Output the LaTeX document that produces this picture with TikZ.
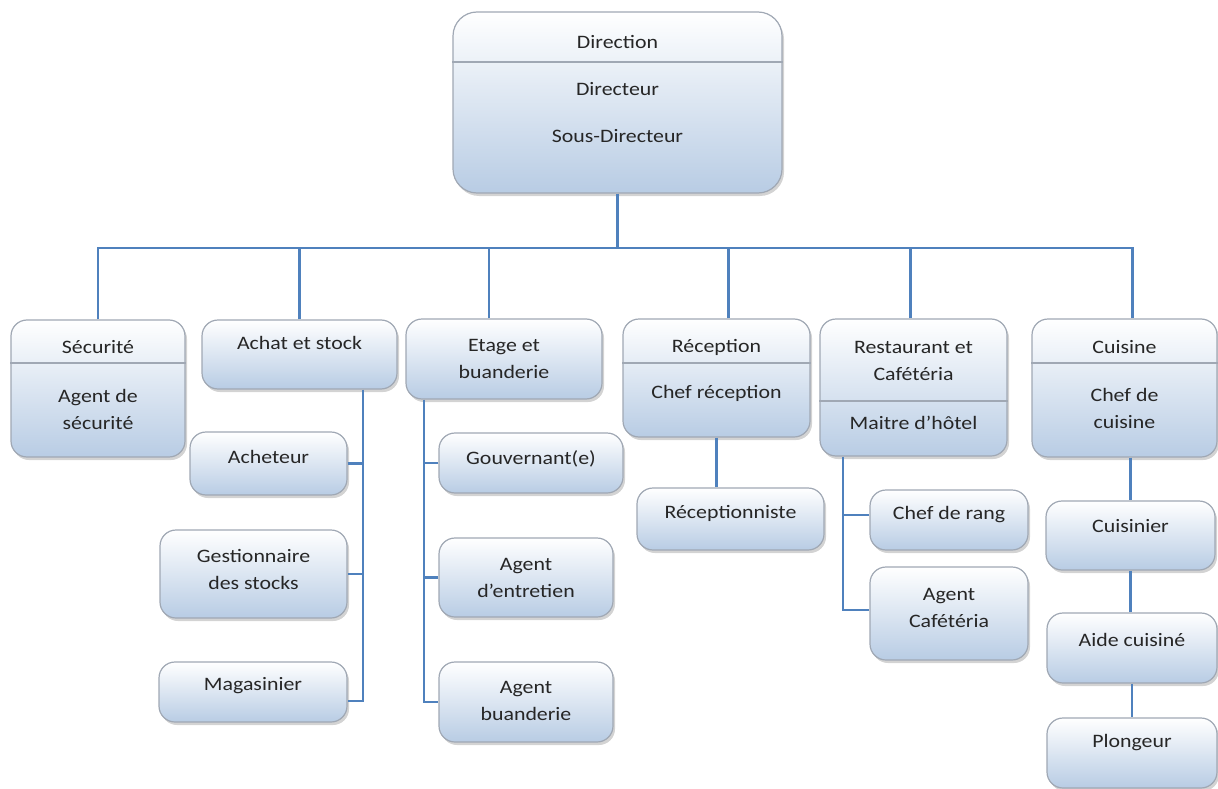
\documentclass[tikz,border=0pt]{standalone}
\usepackage{fontspec}
\setmainfont{Carlito}[FakeStretch=1.15]
\usetikzlibrary{shadows}
\definecolor{linkblue}{RGB}{79,129,189}
\definecolor{boxblue}{RGB}{184,204,228}
\definecolor{boxedge}{RGB}{160,168,180}
\definecolor{inktext}{RGB}{38,38,38}
\tikzset{
  unit/.style={draw=boxedge, line width=1.2pt, rounded corners=16pt,
    top color=white, bottom color=boxblue,
    drop shadow={shadow xshift=2pt, shadow yshift=-3pt, opacity=0.35}},
  txt/.style={text=inktext, align=center, inner sep=0pt,
    font=\fontsize{19}{27}\selectfont},
  link/.style={draw=linkblue, line width=2.5pt},
  split/.style={draw=boxedge, line width=1.2pt}
}

\begin{document}
\begin{tikzpicture}[x=1pt,y=-1pt]
  \useasboundingbox (0,0) rectangle (1218,789);

  \coordinate (busR) at (1132.5,248);

  % boxes, first row
  \node[unit, rounded corners=24pt, minimum width=329pt, minimum height=181pt] (dir) at (617.5,102.5) {};
  \node[unit, minimum width=174pt, minimum height=137pt] (secu) at (98,388.5) {};
  \node[unit, minimum width=195pt, minimum height=69pt] (achat) at (299.5,354.5) {};
  \node[unit, minimum width=196pt, minimum height=80pt] (etage) at (504,359) {};
  \node[unit, minimum width=187pt, minimum height=118pt] (recep) at (716.5,378) {};
  \node[unit, minimum width=187pt, minimum height=137pt] (resto) at (913.5,387.5) {};
  \node[unit, minimum width=185pt, minimum height=138pt] (cuis) at (1124.5,388) {};

  % boxes, staff
  \node[unit, minimum width=157pt, minimum height=63pt] (acheteur) at (268.5,463.5) {};
  \node[unit, minimum width=187pt, minimum height=88pt] (gestion) at (253.5,574) {};
  \node[unit, minimum width=188pt, minimum height=60pt] (magasin) at (253,692) {};
  \node[unit, minimum width=184pt, minimum height=60pt] (gouv) at (531,463) {};
  \node[unit, minimum width=174pt, minimum height=79pt] (entret) at (526,577.5) {};
  \node[unit, minimum width=174pt, minimum height=80pt] (buand) at (526,702) {};
  \node[unit, minimum width=187pt, minimum height=62pt] (recepist) at (730.5,519) {};
  \node[unit, minimum width=158pt, minimum height=60pt] (chefrang) at (949,520) {};
  \node[unit, minimum width=158pt, minimum height=93pt] (agentcaf) at (949,613.5) {};
  \node[unit, minimum width=169pt, minimum height=69pt] (cuisinier) at (1130.5,535.5) {};
  \node[unit, minimum width=170pt, minimum height=70pt] (aide) at (1132,648) {};
  \node[unit, minimum width=170pt, minimum height=70pt] (plong) at (1132,753) {};

  % section lines
  \draw[split] (dir.west |- 0,62) -- (dir.east |- 0,62);
  \draw[split] (secu.west |- 0,363) -- (secu.east |- 0,363);
  \draw[split] (recep.west |- 0,363) -- (recep.east |- 0,363);
  \draw[split] (resto.west |- 0,401) -- (resto.east |- 0,401);
  \draw[split] (cuis.west |- 0,363) -- (cuis.east |- 0,363);

  % texts
  \node[txt] (dirHead) at (617.5,42) {Direction};
  \node[txt] (dirA) at (617.5,89) {Directeur};
  \node[txt] (dirB) at (617.5,136) {Sous-Directeur};
  \node[txt] (secuHead) at (98,347) {Sécurité};
  \node[txt] (secuA) at (98,409.5) {Agent de\\sécurité};
  \node[txt] (achatHead) at (299.5,343) {Achat et stock};
  \node[txt] (etageHead) at (504,358.5) {Etage et\\buanderie};
  \node[txt] (recepHead) at (716.5,347) {Réception};
  \node[txt] (recepA) at (716.5,393) {Chef réception};
  \node[txt] (restoHead) at (913.5,360.5) {Restaurant et\\Cafétéria};
  \node[txt] (restoA) at (913.5,423) {Maitre d’hôtel};
  \node[txt] (cuisHead) at (1124.5,347) {Cuisine};
  \node[txt] (cuisA) at (1124.5,408.5) {Chef de\\cuisine};
  \node[txt] (acheteurT) at (268.5,457) {Acheteur};
  \node[txt] (gestionT) at (253.5,569.5) {Gestionnaire\\des stocks};
  \node[txt] (magasinT) at (253,686) {Magasinier};
  \node[txt] (gouvT) at (531,459) {Gouvernant(e)};
  \node[txt] (entretT) at (526,578) {Agent\\d’entretien};
  \node[txt] (buandT) at (526,701) {Agent\\buanderie};
  \node[txt] (recepistT) at (730.5,513) {Réceptionniste};
  \node[txt] (chefrangT) at (949,515) {Chef de rang};
  \node[txt] (agentcafT) at (949,607.5) {Agent\\Cafétéria};
  \node[txt] (cuisinierT) at (1130.5,526) {Cuisinier};
  \node[txt] (aideT) at (1132,640) {Aide cuisiné};
  \node[txt] (plongT) at (1132,743) {Plongeur};

  % links to the direction
  \draw[link] (secu.north) |- (busR) -- ([xshift=8pt]cuis.north);
  \draw[link] (dir.south) -- (dir.south |- busR);
  \draw[link] (achat.north) -- (achat.north |- busR);
  \draw[link] ([xshift=-15pt]etage.north) -- ([xshift=-15pt]etage.north |- busR);
  \draw[link] ([xshift=12pt]recep.north) -- ([xshift=12pt]recep.north |- busR);
  \draw[link] ([xshift=-3pt]resto.north) -- ([xshift=-3pt]resto.north |- busR);

  % achat et stock
  \coordinate (achatTrunk) at ([xshift=63.5pt]achat.south);
  \draw[link] (achatTrunk) |- ([yshift=-9pt]magasin.east);
  \draw[link] (acheteur.east) -- (acheteur.east -| achatTrunk);
  \draw[link] (gestion.east) -- (gestion.east -| achatTrunk);

  % etage et buanderie
  \coordinate (etageTrunk) at ([xshift=-80pt]etage.south);
  \draw[link] (etageTrunk) |- (buand.west);
  \draw[link] (gouv.west) -- (gouv.west -| etageTrunk);
  \draw[link] (entret.west) -- (entret.west -| etageTrunk);

  % reception
  \draw[link] (recep.south) -- (recep.south |- recepist.north);

  % restaurant
  \coordinate (restoTrunk) at ([xshift=-70.5pt]resto.south);
  \draw[link] (restoTrunk) |- ([yshift=3.5pt]agentcaf.west);
  \draw[link] ([yshift=5pt]chefrang.west) -- ([yshift=5pt]chefrang.west -| restoTrunk);

  % cuisine
  \draw[link] (cuisinier.north |- cuis.south) -- (cuisinier.north);
  \draw[link] (cuisinier.south) -- (cuisinier.south |- aide.north);
  \draw[link] (aide.south) -- (plong.north);

\end{tikzpicture}
\end{document}
